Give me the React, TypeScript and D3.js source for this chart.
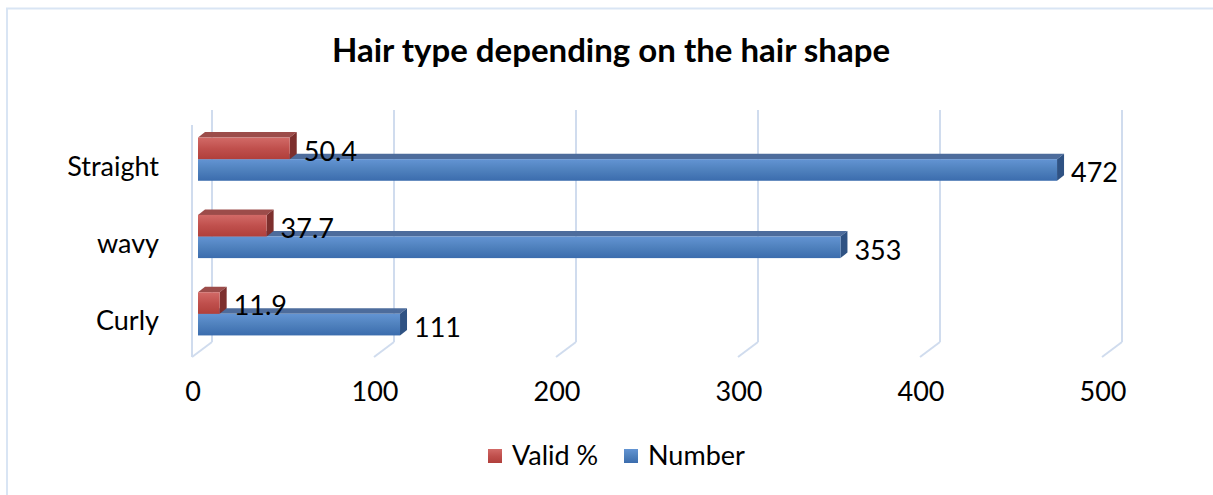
import React from "react";
import * as d3 from "d3";

// Chart data
const categories = ["Straight", "wavy", "Curly"];
const validPct = [50.4, 37.7, 11.9];
const numbers = [472, 353, 111];
const tickValues = [0, 100, 200, 300, 400, 500];
const seriesNames = ["Valid %", "Number"];

const W = 1213;
const H = 495;
const FONT = "Lato, 'Open Sans', sans-serif";
const FS = 27;

// Geometry of the pseudo-3D plot box
const WALL_DEPTH = { dx: 20, dy: -15 }; // front wall plane -> back wall plane
const BAR_SHIFT = { dx: 6, dy: -4.5 }; // front wall plane -> bar front plane
const BAR_DEPTH = { dx: 7, dy: -5.5 }; // bar front face -> bar back face

const wallX = d3.scaleLinear().domain([0, 500]).range([192, 1102]);
const barX = d3.scaleLinear().domain([0, 500]).range([192 + BAR_SHIFT.dx, 1102 + BAR_SHIFT.dx]);
const FRONT_TOP = 125;
const FRONT_BOTTOM = 357;

const catBand = d3
  .scaleBand<string>()
  .domain(categories)
  .range([FRONT_TOP + BAR_SHIFT.dy, FRONT_BOTTOM + BAR_SHIFT.dy])
  .paddingInner(0)
  .paddingOuter(0);

const subBand = d3
  .scaleBand<string>()
  .domain(seriesNames)
  .range([0, catBand.bandwidth()])
  .paddingInner(0)
  .paddingOuter(0.79);

const palette: Record<string, { top: string; side: string; g0: string; g1: string; g2: string }> = {
  "Valid %": { top: "#9c4c4a", side: "#7d2f2d", g0: "#d26a67", g1: "#c0504d", g2: "#b03f3b" },
  Number: { top: "#4d6c9c", side: "#2f5283", g0: "#6394d3", g1: "#4f81bd", g2: "#3b6cad" },
};

const GRID = "#d0dcee";

function Bar({ series, cat, value }: { series: string; cat: string; value: number }) {
  const y0 = (catBand(cat) ?? 0) + (subBand(series) ?? 0);
  const y1 = y0 + subBand.bandwidth();
  const x0 = barX(0);
  const x1 = barX(value);
  const { dx, dy } = BAR_DEPTH;
  const c = palette[series];
  const gid = series === "Number" ? "gradNumber" : "gradValid";
  const top = [
    [x0, y0],
    [x1, y0],
    [x1 + dx, y0 + dy],
    [x0 + dx, y0 + dy],
  ];
  const side = [
    [x1, y0],
    [x1 + dx, y0 + dy],
    [x1 + dx, y1 + dy],
    [x1, y1],
  ];
  const pts = (p: number[][]) => p.map((q) => q.join(",")).join(" ");
  return (
    <g>
      <polygon points={pts(top)} fill={c.top} />
      <polygon points={pts(side)} fill={c.side} />
      <rect x={x0} y={y0} width={x1 - x0} height={y1 - y0} fill={`url(#${gid})`} />
    </g>
  );
}

export default function App() {
  const rows = categories.map((cat, i) => ({ cat, valid: validPct[i], number: numbers[i] }));

  return (
    <svg
      width={W}
      height={H}
      viewBox={`0 0 ${W} ${H}`}
      style={{ position: "absolute", left: 0, top: 0, background: "#fff" }}
    >
      <defs>
        {(["Valid %", "Number"] as const).map((s) => (
          <linearGradient key={s} id={s === "Number" ? "gradNumber" : "gradValid"} x1="0" y1="0" x2="0" y2="1">
            <stop offset="0%" stopColor={palette[s].g0} />
            <stop offset="50%" stopColor={palette[s].g1} />
            <stop offset="100%" stopColor={palette[s].g2} />
          </linearGradient>
        ))}
      </defs>

      {/* chart frame */}
      <rect x={7} y={8.5} width={1300} height={600} fill="#fff" stroke="#d9e5f4" strokeWidth={2} />

      {/* title */}
      <text
        x={611}
        y={62}
        textAnchor="middle"
        fontFamily={FONT}
        fontWeight="bold"
        fontSize={33}
        fill="#000"
      >
        Hair type depending on the hair shape
      </text>

      {/* back-wall gridlines and floor diagonals */}
      {tickValues.map((t) => {
        const fx = wallX(t);
        const bx = fx + WALL_DEPTH.dx;
        return (
          <g key={t} stroke={GRID} strokeWidth={2} fill="none">
            <line x1={bx} y1={FRONT_TOP + WALL_DEPTH.dy} x2={bx} y2={FRONT_BOTTOM + WALL_DEPTH.dy} />
            <line x1={bx} y1={FRONT_BOTTOM + WALL_DEPTH.dy} x2={fx} y2={FRONT_BOTTOM} />
          </g>
        );
      })}
      <line x1={wallX(0)} y1={FRONT_TOP} x2={wallX(0)} y2={FRONT_BOTTOM} stroke={GRID} strokeWidth={2} />

      {/* bars: Number behind, Valid % above it */}
      {rows.map((r) => (
        <g key={r.cat}>
          <Bar series="Number" cat={r.cat} value={r.number} />
          <Bar series="Valid %" cat={r.cat} value={r.valid} />
        </g>
      ))}

      {/* value labels */}
      {rows.map((r) =>
        (["Valid %", "Number"] as const).map((s) => {
          const v = s === "Number" ? r.number : r.valid;
          const y = (catBand(r.cat) ?? 0) + (subBand(s) ?? 0) + subBand.bandwidth() / 2;
          return (
            <text
              key={r.cat + s}
              x={barX(v) + 14}
              y={y + 3}
              dy="0.35em"
              fontFamily={FONT}
              fontSize={FS}
              fill="#000"
            >
              {String(v)}
            </text>
          );
        })
      )}

      {/* category labels */}
      {categories.map((c) => (
        <text
          key={c}
          x={159}
          y={(catBand(c) ?? 0) + catBand.bandwidth() / 2 + 7}
          dy="0.35em"
          textAnchor="end"
          fontFamily={FONT}
          fontSize={FS}
          fill="#000"
        >
          {c}
        </text>
      ))}

      {/* value axis tick labels */}
      {tickValues.map((t) => (
        <text
          key={t}
          x={wallX(t) + 1}
          y={392}
          dy="0.35em"
          textAnchor="middle"
          fontFamily={FONT}
          fontSize={FS}
          fill="#000"
        >
          {t}
        </text>
      ))}

      {/* legend */}
      {seriesNames.map((s, i) => {
        const lx = i === 0 ? 488 : 624;
        return (
          <g key={s}>
            <rect x={lx} y={449} width={14} height={14} fill={`url(#${s === "Number" ? "gradNumber" : "gradValid"})`} />
            <text x={lx + 24} y={456} dy="0.35em" fontFamily={FONT} fontSize={FS} fill="#000">
              {s}
            </text>
          </g>
        );
      })}
    </svg>
  );
}
